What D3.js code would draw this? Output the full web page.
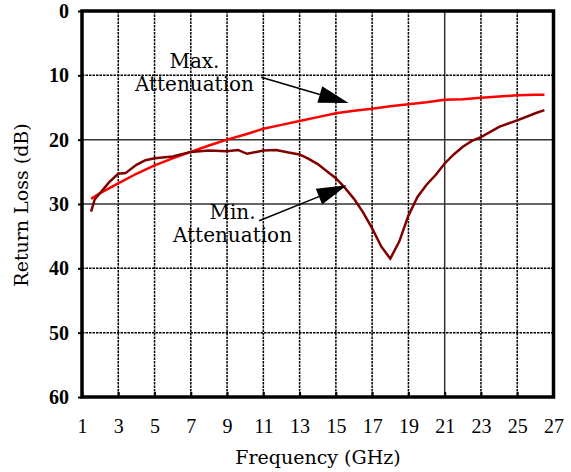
<!DOCTYPE html>
<html><head><meta charset="utf-8">
<script src="https://cdn.jsdelivr.net/npm/d3@7"></script>
<style>body{margin:0;background:#fff;} svg{display:block;}</style>
</head><body>
<script>
const freqMax = [1.5,2,3,4,5,6,7,8,9,10,11,12,13,14,15,16,17,18,19,20,21,22,23,24,25,26,26.5];
const maxAtten = [29.2,28.3,26.8,25.3,24.0,22.9,21.9,20.9,20.0,19.2,18.3,17.7,17.1,16.5,15.9,15.5,15.2,14.8,14.5,14.2,13.8,13.7,13.5,13.3,13.1,13.0,13.0];
const freqMin = [1.5,1.7,2,2.5,3,3.4,4,4.5,5,6,7,8,9,9.6,10.1,11,11.7,12.4,13,13.5,14,14.5,15,15.5,16,16.5,17,17.5,18,18.5,19,19.5,20,20.5,21,21.5,22,22.5,23,24,25,26,26.5];
const minAtten = [31.2,29.3,28.3,26.6,25.3,25.2,23.9,23.2,22.9,22.6,21.9,21.7,21.8,21.6,22.2,21.7,21.6,22.0,22.3,23.0,23.8,24.9,26.0,27.5,29.2,31.3,33.8,36.6,38.5,35.8,31.8,28.9,27.0,25.5,23.7,22.3,21.1,20.2,19.6,18.0,17.0,15.9,15.4];
const xTicks = [1,3,5,7,9,11,13,15,17,19,21,23,25,27];
const yTicks = [0,10,20,30,40,50,60];
const solidX = [21];
const solidY = [20,30];

const W = 571, H = 472;
const svg = d3.select("body").append("svg").attr("width", W).attr("height", H);
const x = d3.scaleLinear().domain([1,27]).range([82,553.5]);
const y = d3.scaleLinear().domain([0,60]).range([11,397]);

// grid
const g = svg.append("g");
xTicks.slice(1,-1).forEach(v => {
  const solid = solidX.includes(v);
  g.append("line").attr("x1", x(v)).attr("x2", x(v)).attr("y1", y(0)).attr("y2", y(60))
    .attr("stroke", solid ? "#333" : "#000").attr("stroke-width", 1.5)
    .attr("stroke-dasharray", solid ? null : "2.5,1");
});
yTicks.slice(1,-1).forEach(v => {
  const solid = solidY.includes(v);
  g.append("line").attr("x1", x(1)).attr("x2", x(27)).attr("y1", y(v)).attr("y2", y(v))
    .attr("stroke", solid ? "#333" : "#000").attr("stroke-width", 1.5)
    .attr("stroke-dasharray", solid ? null : "2.5,1");
});

// lines
const line = (xs) => d3.line().x((d,i) => x(xs[i])).y(d => y(d));
svg.append("path").datum(maxAtten).attr("d", line(freqMax))
  .attr("fill","none").attr("stroke","#ff0000").attr("stroke-width",2.5);
svg.append("path").datum(minAtten).attr("d", line(freqMin))
  .attr("fill","none").attr("stroke","#800000").attr("stroke-width",2.5);

// axes
const yAxis = d3.axisLeft(y).tickValues(yTicks).tickSize(4).tickSizeOuter(0).tickPadding(9);
const ya = svg.append("g").attr("transform", `translate(${x(1)},0)`).call(yAxis);
ya.select(".domain").remove();
ya.selectAll("line").attr("stroke","#000").attr("stroke-width",2);
ya.selectAll("text").attr("font-family","'Liberation Serif', serif").attr("font-size",20)
  .attr("font-weight","bold").attr("fill","#000");

const xAxis = d3.axisBottom(x).tickValues(xTicks).tickSize(-5).tickSizeOuter(0).tickPadding(22);
const xa = svg.append("g").attr("transform", `translate(0,${y(60)})`).call(xAxis);
xa.select(".domain").remove();
xa.selectAll("line").attr("stroke","#000").attr("stroke-width",2);
xa.selectAll("text").attr("font-family","'Liberation Serif', serif").attr("font-size",20).attr("fill","#000");

// frame
svg.append("rect").attr("x", x(1)).attr("y", y(0)).attr("width", x(27)-x(1)).attr("height", y(60)-y(0))
  .attr("fill","none").attr("stroke","#000").attr("stroke-width",3.5);

// axis titles
svg.append("text").attr("x", 318).attr("y", 464).attr("text-anchor","middle")
  .attr("font-family","'DejaVu Serif', serif").attr("font-size",19).text("Frequency (GHz)");
svg.append("text").attr("transform", `translate(28,${205}) rotate(-90)`).attr("text-anchor","middle")
  .attr("font-family","'DejaVu Serif', serif").attr("font-size",19).text("Return Loss (dB)");

// annotations
function label(cx, cyData, lines) {
  const t = svg.append("text").attr("text-anchor","middle")
    .attr("font-family","'DejaVu Serif', serif").attr("font-size",20).attr("fill","#000");
  lines.forEach((s,i) => t.append("tspan").attr("x", x(cx)).attr("y", y(cyData) + i*23).text(s));
}
label(7.2, 8.8, ["Max.","Attenuation"]);
label(9.3, 32.3, ["Min.","Attenuation"]);

function arrow(x1,y1,x2,y2) {
  const px1 = x(x1), py1 = y(y1), px2 = x(x2), py2 = y(y2);
  const ang = Math.atan2(py2-py1, px2-px1);
  const len = 30, hw = 8.5;
  const bx = px2 - len*Math.cos(ang), by = py2 - len*Math.sin(ang);
  svg.append("line").attr("x1",px1).attr("y1",py1).attr("x2",bx).attr("y2",by)
    .attr("stroke","#000").attr("stroke-width",1.5);
  const pts = [[px2,py2],[bx - hw*Math.sin(ang), by + hw*Math.cos(ang)],[bx + hw*Math.sin(ang), by - hw*Math.cos(ang)]];
  svg.append("polygon").attr("points", pts.map(p=>p.join(",")).join(" ")).attr("fill","#000");
}
arrow(10.88, 10.3, 15.7, 14.3);
arrow(10.77, 32.6, 15.6, 27.1);
</script>
</body></html>
